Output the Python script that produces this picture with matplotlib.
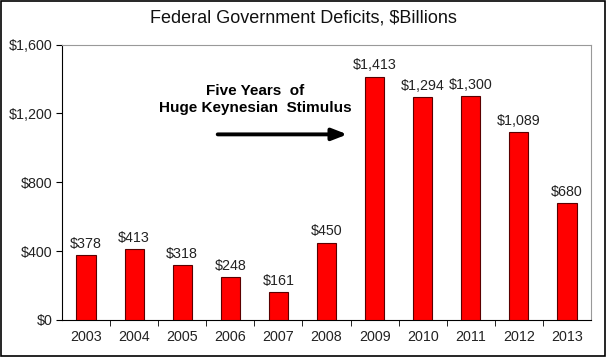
import matplotlib
matplotlib.use("Agg")
import matplotlib.pyplot as plt
from matplotlib.patches import Rectangle

plt.rcParams['font.family'] = ['Liberation Sans', 'DejaVu Sans']

# Data
years = ["2003","2004","2005","2006","2007","2008","2009","2010","2011","2012","2013"]
deficits = [378, 413, 318, 248, 161, 450, 1413, 1294, 1300, 1089, 680]
yticks = [0, 400, 800, 1200, 1600]

fig = plt.figure(figsize=(6.07, 3.59), dpi=100)
ax = fig.add_axes([62/607, 1-320/359, (591-62)/607, (320-44.5)/359])

x = list(range(len(years)))
ax.bar(x, deficits, width=0.4, color="#ff0000", edgecolor="#5a0000", linewidth=0.8, zorder=3)

for xi, v in zip(x, deficits):
  ax.text(xi, v + 25, f"${v:,}", ha="center", va="bottom", fontsize=10.3, color="#222222")

ax.set_xlim(-0.5, len(years)-0.5)
ax.set_ylim(0, 1600)
ax.set_yticks(yticks)
ax.set_yticklabels([f"${t:,}" for t in yticks], fontsize=10.3, color="#222222")
ax.set_xticks(x)
ax.set_xticklabels(years, fontsize=10.3, color="#222222")
ax.set_xticks([i + 0.5 for i in x[:-1]], minor=True)
ax.tick_params(axis="x", which="major", length=0, pad=7)
ax.tick_params(axis="x", which="minor", length=4, direction="out", color="black")
ax.tick_params(axis="y", length=4, direction="out", color="black", pad=3)

for side in ["top", "right"]:
  ax.spines[side].set_color("#999999")
  ax.spines[side].set_linewidth(0.8)
for side in ["left", "bottom"]:
  ax.spines[side].set_color("black")
  ax.spines[side].set_linewidth(0.8)

fig.text(0.5, 1-18/359, "Federal Government Deficits, $Billions", ha="center", va="center", fontsize=13, color="#111111")

ax.text(3.51, 1280, "Five Years  of\nHuge Keynesian  Stimulus", ha="center", va="center",
        fontsize=11, fontweight="bold", linespacing=1.25)
ax.annotate("", xy=(5.49, 1078), xytext=(2.68, 1078),
            arrowprops=dict(arrowstyle="-|>,head_length=0.9,head_width=0.35", color="black", lw=2.8))

fig.patches.append(Rectangle((1/607, 1-356/359), 604/607, 355/359, transform=fig.transFigure,
                             fill=False, edgecolor="black", linewidth=1.2))

fig.savefig("out.png", dpi=100)
